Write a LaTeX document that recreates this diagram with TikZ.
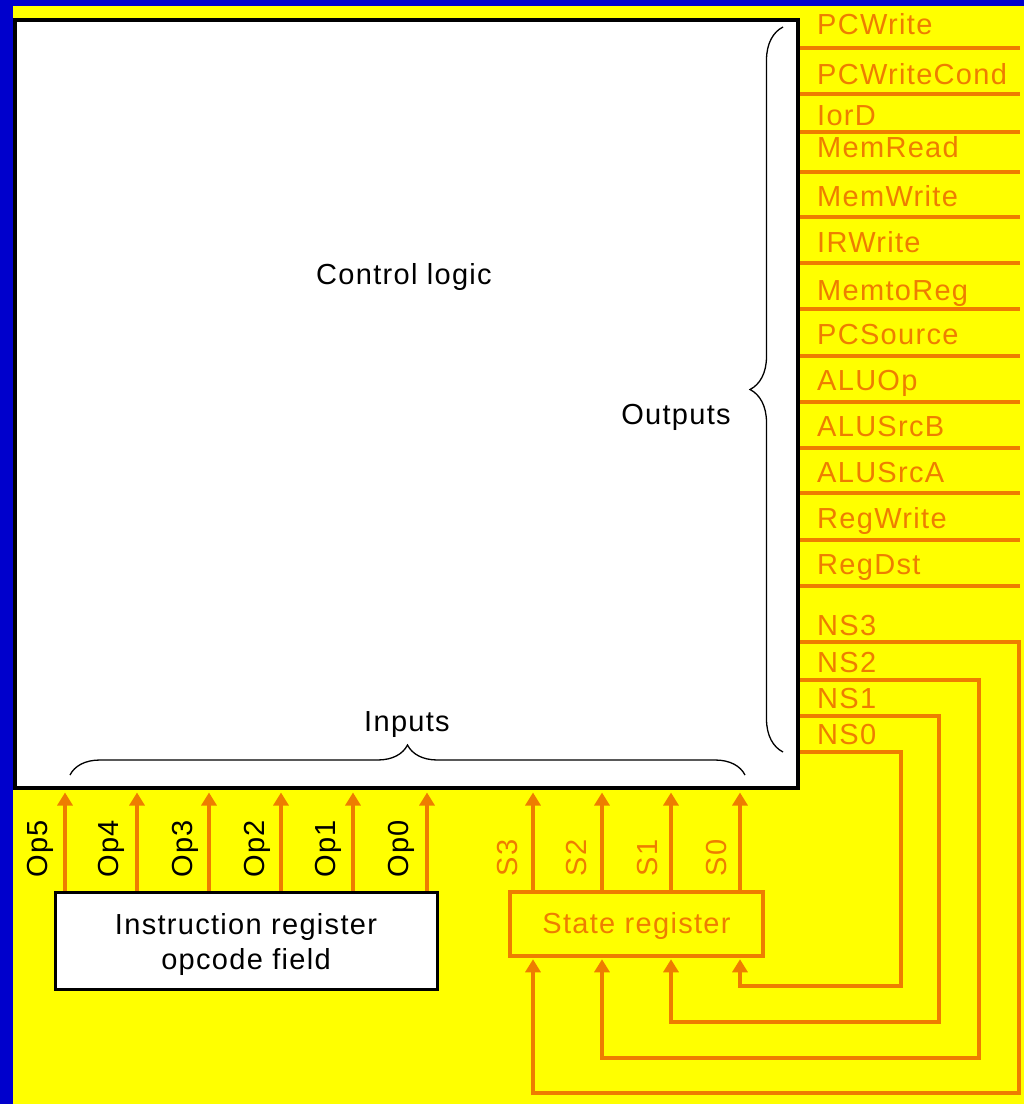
\documentclass[tikz,border=0pt]{standalone}
\usepackage{fontspec}
\setmainfont{Liberation Sans}[LetterSpace=4.5]
\usetikzlibrary{arrows.meta,decorations.pathreplacing,positioning}

\definecolor{sigorange}{RGB}{238,125,0}
\definecolor{bgblue}{RGB}{0,0,204}
\definecolor{bgyellow}{RGB}{255,255,0}

\tikzset{
  wire/.style={draw=sigorange, line width=3.5pt},
  wirein/.style={wire, -{Triangle[width=15pt,length=13pt]}},
  lbl/.style={font=\fontsize{29}{35}\selectfont, inner sep=0pt},
  siglabel/.style={lbl, text=sigorange, anchor=base west},
  curly/.style={decorate, decoration={brace, amplitude=#1}, line width=1.3pt},
}

\begin{document}
\begin{tikzpicture}[x=1pt, y=-1pt]
  \useasboundingbox (0,0) rectangle (1024,1104);
  \fill[bgblue] (0,0) rectangle (1024,1104);
  \fill[bgyellow] (13,6) rectangle (1024,1104);

  % control logic block
  \node[draw, fill=white, line width=4pt, minimum width=783pt, minimum height=767.5pt, inner sep=0pt] (ctrl) at (406.5,403.75) {};
  \node[lbl, anchor=base] (ctrltxt) at (404,284) {Control logic};

  % registers
  \node[draw=sigorange, line width=3.5pt, fill=bgyellow, text=sigorange, lbl, text height=21pt, text depth=3pt, minimum width=253pt, minimum height=64pt] (statereg) at (636.5,924) {State register};
  \node[draw, line width=3pt, fill=white, lbl, align=center, minimum width=382pt, minimum height=97pt] (instreg) at (246,940.5) {\rule{0pt}{29pt}Instruction register\\opcode field};

  % control outputs
  \foreach \name/\base/\ly in {PCWrite/34/48, PCWriteCond/84/94, IorD/125/132, MemRead/157/172, MemWrite/206/217, IRWrite/252/263, MemtoReg/300/309, PCSource/344/356, ALUOp/390/402, ALUSrcB/436/448, ALUSrcA/482/493, RegWrite/528/540, RegDst/574/586}{
    \node[siglabel] (\name) at (817,\base) {\name};
    \coordinate (\name-end) at (1020,\ly);
    \draw[wire] (ctrl.east |- \name-end) -- (\name-end);
  }

  % next state fed back
  \foreach \i/\base/\ly/\rx/\by/\lx in {3/635/642/1019/1093/533, 2/672/680/979/1058/602, 1/708/716/939/1022/671, 0/744/752/901/986/740}{
    \node[siglabel] (NS\i) at (817,\base) {NS\i};
    \draw[wirein, shorten >=1.5pt] (ctrl.east |- 0,\ly) -| (\rx,\by) -| (\lx,0 |- statereg.south);
  }

  % state inputs
  \foreach \i/\x/\tx in {3/533/508, 2/602/577, 1/671/648, 0/740/717}{
    \draw[wirein, shorten >=3pt] (\x,0 |- statereg.north) -- (\x,0 |- ctrl.south);
    \node[lbl, text=sigorange, rotate=90] (S\i) at (\tx,858) {S\i};
  }

  % opcode inputs
  \foreach \i/\x/\tx in {5/65/40, 4/137/111, 3/209/185, 2/281/257, 1/353/328, 0/427/401}{
    \draw[wirein, shorten >=3pt] (\x,0 |- instreg.north) -- (\x,0 |- ctrl.south);
    \node[lbl, rotate=90] (Op\i) at (\tx,849) {Op\i};
  }

  % braces
  \draw[curly=33pt] (783,752) -- (783,27);
  \node[lbl, anchor=base] (outtxt) at (676,424) {Outputs};
  \draw[curly=30pt] (70,775) -- (745,775);
  \node[lbl, anchor=base] (intxt) at (407,731) {Inputs};
\end{tikzpicture}
\end{document}
